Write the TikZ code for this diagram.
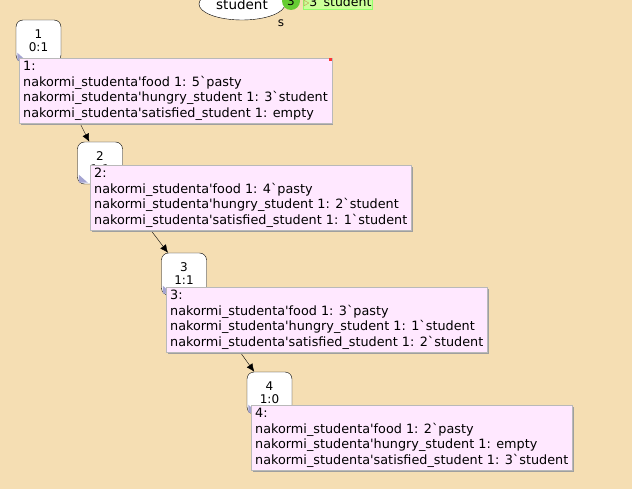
\documentclass[tikz,border=0pt]{standalone}
\usepackage{fontspec}
\setmainfont{DejaVu Sans}
\usetikzlibrary{arrows.meta,shapes,positioning,shadows}
\definecolor{bgtan}{RGB}{245,222,179}
\definecolor{tippink}{RGB}{255,232,255}
\definecolor{marklav}{RGB}{165,165,210}
\definecolor{tokgreen}{RGB}{102,204,51}
\definecolor{toklabel}{RGB}{204,255,153}
\newcommand{\bq}{\textasciigrave}
\newcommand{\sq}{\textquotesingle}
\tikzstyle{arrow} = [-{Latex[length=8pt,width=7pt]}]
\tikzstyle{stateNode} = [shape = rectangle, draw, rounded corners=7pt, fill=white, minimum width=45pt, minimum height=42pt, align=center, inner sep=0pt, font=\fontsize{12}{13}\selectfont]
\tikzstyle{infoBox} = [shape = rectangle, draw=gray!55, fill=tippink, anchor=north west, align=left, inner xsep=4pt, inner ysep=3pt, font=\fontsize{12.8}{15.5}\selectfont, drop shadow={shadow xshift=1.5pt, shadow yshift=-1.5pt, opacity=1, fill=gray!75}]
\newcommand{\stateMark}[1]{\fill[marklav] ([shift={(1.5pt,1.5pt)}]#1.south west) -- ++(9pt,0pt) -- ++(-9pt,8pt) -- cycle;}

\begin{document}
\begin{tikzpicture}[x=1pt, y=-1pt]
	\fill[bgtan] (0,0) rectangle (632,489);
	\useasboundingbox (0,0) rectangle (632,489);
	% place node on top
	\node (place) at (242,4) [shape = ellipse, draw, fill=white, minimum width=86pt, minimum height=32pt, inner sep=0pt, font=\fontsize{13.5}{14}\selectfont] {student};
	\node (placeType) at (281,23) [font=\fontsize{12}{13}\selectfont] {s};
	\node (tokCount) at (291,1) [shape = circle, fill=tokgreen, minimum size=18pt, inner sep=0pt, font=\fontsize{12}{13}\selectfont] {3};
	\node (tokLabel) at (337.5,1.5) [shape = rectangle, fill=toklabel, draw=toklabel!70!green, minimum width=69pt, minimum height=15pt, inner sep=0pt, font=\fontsize{12.5}{13}\selectfont] {\textcolor{brown}{$\triangleright$}3\bq student};
	% states
	\node (s1) at (38.5,41) [stateNode] {1\\0:1};
	\node (s2) at (100,163) [stateNode] {2\\1:1};
	\node (s3) at (184,274) [stateNode] {3\\1:1};
	\node (s4) at (269.5,393) [stateNode] {4\\1:0};
	\stateMark{s1}
	\stateMark{s2}
	\stateMark{s3}
	\stateMark{s4}
	\draw[arrow] (s1) -- (s2);
	\draw[arrow] (s2) -- (s3);
	\draw[arrow] (s3) -- (s4);
	% markings
	\node (info1) at (19,58) [infoBox] {1:\\nakormi\_studenta\sq food 1: 5\bq pasty\\nakormi\_studenta\sq hungry\_student 1: 3\bq student\\nakormi\_studenta\sq satisfied\_student 1: empty};
	\fill[red!80] (info1.north east) ++(-3,0) rectangle ++(3,3);
	\node (info2) at (90,165) [infoBox] {2:\\nakormi\_studenta\sq food 1: 4\bq pasty\\nakormi\_studenta\sq hungry\_student 1: 2\bq student\\nakormi\_studenta\sq satisfied\_student 1: 1\bq student};
	\node (info3) at (166,287) [infoBox] {3:\\nakormi\_studenta\sq food 1: 3\bq pasty\\nakormi\_studenta\sq hungry\_student 1: 1\bq student\\nakormi\_studenta\sq satisfied\_student 1: 2\bq student};
	\node (info4) at (251,405) [infoBox] {4:\\nakormi\_studenta\sq food 1: 2\bq pasty\\nakormi\_studenta\sq hungry\_student 1: empty\\nakormi\_studenta\sq satisfied\_student 1: 3\bq student};
\end{tikzpicture}
\end{document}
